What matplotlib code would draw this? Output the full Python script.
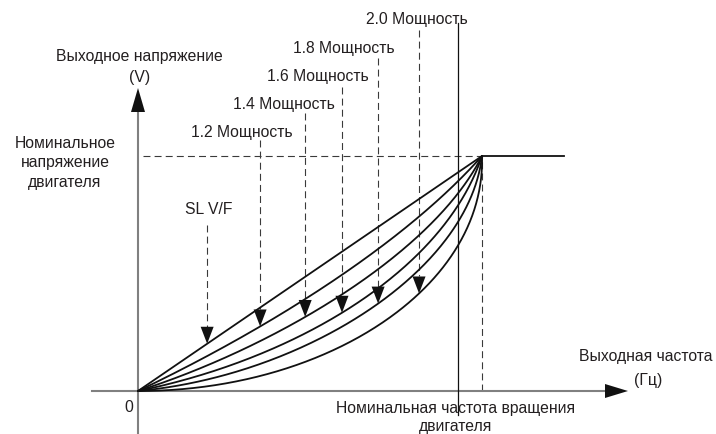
import numpy as np
import matplotlib
matplotlib.use("Agg")
import matplotlib.pyplot as plt
from matplotlib.patches import Polygon

plt.rcParams['font.family'] = ['Liberation Sans', 'DejaVu Sans']
plt.rcParams['lines.scale_dashes'] = False

# Output frequency as a fraction of the rated motor frequency
freq = [0.0, 0.253, 0.369, 0.456, 0.573, 0.660, 0.815, 0.929, 1.0]

# Output voltage (fraction of rated voltage) for each V/F characteristic
v_sl = [0.0, 0.253, 0.369, 0.456, 0.573, 0.660, 0.815, 0.929, 1.0]
v_12 = [0.0, 0.186, 0.288, 0.360, 0.480, 0.569, 0.735, 0.884, 1.0]
v_14 = [0.0, 0.139, 0.217, 0.302, 0.387, 0.480, 0.660, 0.834, 1.0]
v_16 = [0.0, 0.101, 0.167, 0.224, 0.309, 0.401, 0.590, 0.777, 1.0]
v_18 = [0.0, 0.064, 0.125, 0.174, 0.260, 0.331, 0.515, 0.714, 1.0]
v_20 = [0.0, 0.033, 0.075, 0.103, 0.174, 0.245, 0.416, 0.614, 1.0]
curves = [v_sl, v_12, v_14, v_16, v_18, v_20]

curve_labels = ["SL V/F", "1.2 Мощность", "1.4 Мощность",
                "1.6 Мощность", "1.8 Мощность", "2.0 Мощность"]
# frequency at which each label's pointer meets its curve
arrow_freq = [0.201, 0.355, 0.486, 0.593, 0.698, 0.817]

# constant-voltage section beyond rated frequency
flat_freq = [1.0, 1.238]
flat_volt = [1.0, 1.0]

# ---- canvas layout (pixel grid of the 716x434 figure) ----
W, H = 716, 434
X0, Y0 = 138, 391          # origin
SX, SY = 344, 235          # pixels per unit frequency / voltage


def P(px, py):
    """Canvas pixel position -> chart units."""
    return (px - X0) / SX, (Y0 - py) / SY


fig = plt.figure(figsize=(W / 100, H / 100), dpi=100)
ax = fig.add_axes([0, 0, 1, 1])
ax.set_xlim(-X0 / SX, (W - X0) / SX)
ax.set_ylim(-(H - Y0) / SY, Y0 / SY)
ax.axis('off')

TXT = '#231f20'
AXC = '#808080'
DASH = '#3a3a3a'
FS = 11.3


def bezier(p0, p1, p2, p3, t):
    t = np.asarray(t)[:, None]
    return ((1 - t) ** 3) * p0 + 3 * ((1 - t) ** 2) * t * p1 \
        + 3 * (1 - t) * t ** 2 * p2 + t ** 3 * p3


def smooth(xs, ys, n=300):
    """Single cubic Bezier fitted (least squares) through the sampled points."""
    pts = np.column_stack([xs, ys]).astype(float)
    p0, p3 = pts[0], pts[-1]
    d = np.r_[0, np.cumsum(np.hypot(*np.diff(pts, axis=0).T))]
    t = d / d[-1]
    dense_t = np.linspace(0, 1, 2000)
    for _ in range(30):
        b1 = 3 * (1 - t) ** 2 * t
        b2 = 3 * (1 - t) * t ** 2
        rhs = pts - np.outer((1 - t) ** 3, p0) - np.outer(t ** 3, p3)
        A = np.column_stack([b1, b2])
        sol, *_ = np.linalg.lstsq(A, rhs, rcond=None)
        p1, p2 = sol
        dense = bezier(p0, p1, p2, p3, dense_t)
        idx = np.argmin(((dense[None, :, :] - pts[:, None, :]) ** 2).sum(-1), axis=1)
        t = dense_t[idx]
        t[0], t[-1] = 0.0, 1.0
    out = bezier(p0, p1, p2, p3, np.linspace(0, 1, n))
    return out[:, 0], out[:, 1]


# axes
ax.plot(*zip(P(92, Y0), P(606, Y0)), color=AXC, lw=1.5, zorder=2)
ax.plot(*zip(P(X0, 433), P(X0, 110)), color=AXC, lw=1.5, zorder=2)
ax.add_patch(Polygon([P(628, Y0), P(605, Y0 - 7), P(605, Y0 + 7)],
                     closed=True, color='#111111', lw=0, zorder=3))
ax.add_patch(Polygon([P(X0, 88), P(X0 - 7, 112), P(X0 + 7, 112)],
                     closed=True, color='#111111', lw=0, zorder=3))

# rated voltage / rated frequency guides
ax.plot([P(143, 0)[0], 1.0], [1.0, 1.0], color=DASH, lw=0.8,
        dashes=(5, 3), zorder=1)
ax.plot([1.0, 1.0], [0.0, 1.0], color=DASH, lw=0.8, dashes=(5, 3), zorder=1)

# rated rotation speed marker
ax.plot(*zip(P(457.5, 23), P(457.5, 415)), color='#111111', lw=0.9, zorder=2)

# V/F curves
for vals in curves:
    cx, cy = smooth(freq, vals)
    ax.plot(cx, cy, color='#111111', lw=1.3, solid_capstyle='round', zorder=4)
ax.plot(flat_freq, flat_volt, color='#111111', lw=1.3, zorder=4)

# labels with dashed pointers
label_pos = [(209, 210), (242, 132), (284, 105), (318, 77), (344, 49), (417, 20)]
dash_top = [225, 140, 113, 87, 58, 30]
head_w, head_h = 6.5 / SX, 17 / SY
for lab, (lx, ly), top, af, vals in zip(curve_labels, label_pos, dash_top,
                                        arrow_freq, curves):
    cx, cy = smooth(freq, vals, n=600)
    tip = np.interp(af, cx, cy)
    ax.text(*P(lx, ly), lab, fontsize=FS, color=TXT, ha='center', va='center')
    ax.plot([af, af], [P(0, top)[1], tip + head_h], color=DASH, lw=0.8,
            dashes=(5, 3), zorder=3)
    ax.add_patch(Polygon([(af, tip), (af - head_w, tip + head_h),
                          (af + head_w, tip + head_h)], closed=True,
                         color='#111111', lw=0, zorder=5))

# axis titles and annotations
ax.text(*P(139, 57), "Выходное напряжение", fontsize=FS, color=TXT,
        ha='center', va='center')
ax.text(*P(140, 78), "(V)", fontsize=FS, color=TXT, ha='center', va='center')
for txt, yy in zip(["Номинальное", "напряжение", "двигателя"], [144, 163, 182]):
    ax.text(*P(65, yy), txt, fontsize=FS, color=TXT, ha='center', va='center')
ax.text(*P(129, 407), "0", fontsize=FS, color=TXT, ha='center', va='center')
ax.text(*P(646, 357), "Выходная частота", fontsize=FS, color=TXT,
        ha='center', va='center')
ax.text(*P(648, 380), "(Гц)", fontsize=FS, color=TXT, ha='center', va='center')
ax.text(*P(456, 408), "Номинальная частота вращения", fontsize=FS, color=TXT,
        ha='center', va='center')
ax.text(*P(456, 427), "двигателя", fontsize=FS, color=TXT,
        ha='center', va='center')

fig.savefig("out.png", dpi=100)
